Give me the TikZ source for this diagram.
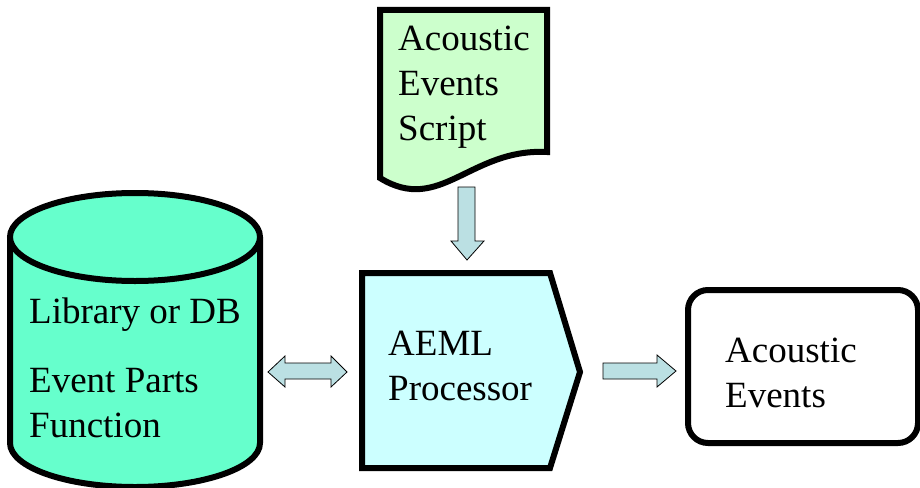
\documentclass[tikz,border=0pt]{standalone}
\usepackage{fontspec}
\setmainfont{Liberation Serif}
\usetikzlibrary{positioning}
\definecolor{scriptgreen}{RGB}{204,255,204}
\definecolor{dbgreen}{RGB}{102,255,204}
\definecolor{proccyan}{RGB}{204,255,255}
\definecolor{arrowblue}{RGB}{187,224,227}
\tikzset{
  thickline/.style={line width=6pt, line join=miter},
  boxtext/.style={font=\fontsize{37}{45}\selectfont, align=left, anchor=base west, inner sep=0pt},
  blockarrow/.style={draw, fill=arrowblue, line width=0.8pt}
}
\begin{document}
\begin{tikzpicture}[x=1pt,y=-1pt]
	\useasboundingbox (0,0) rectangle (920,487);
	% script
	\draw [thickline, fill=scriptgreen] (380,10) -- (547,10) -- (547,152)
		.. controls (470,148) and (440,215) .. (380,178) -- cycle;
	\node [boxtext] (script) at (398,140) {Acoustic\\Events\\Script};
	% library cylinder
	\coordinate (dbtop) at (135,237);
	\coordinate (dbbot) at (135,443);
	\draw [thickline, fill=dbgreen] (10,237) -- (10,443)
		arc [start angle=180, end angle=0, x radius=125, y radius=44] -- (260,237);
	\draw [thickline, fill=dbgreen] (dbtop) ellipse [x radius=125, y radius=44];
	\node [boxtext] (lib) at (29,323) {Library or DB};
	\node [boxtext] (parts) at (29,437) {Event Parts\\Function};
	% processor
	\draw [thickline, fill=proccyan] (362,273) -- (550,273) -- (580,372) -- (550,468) -- (362,468) -- cycle;
	\node [boxtext] (proc) at (388,400) {AEML\\Processor};
	% output
	\draw [thickline, rounded corners=20pt] (688,290) rectangle (918,443);
	\node [boxtext] (out) at (725,407) {Acoustic\\Events};
	% block arrows
	\draw [blockarrow] (458,187) -- (475,187) -- (475,241) -- (484,241) -- (467,260) -- (451,241) -- (458,241) -- cycle;
	\draw [blockarrow] (268,372) -- (285,356) -- (285,363) -- (331,363) -- (331,356) -- (347,372)
		-- (331,387) -- (331,379) -- (285,379) -- (285,387) -- cycle;
	\draw [blockarrow] (603,363) -- (657,363) -- (657,355) -- (676,371) -- (657,387) -- (657,379) -- (603,379) -- cycle;
\end{tikzpicture}
\end{document}
